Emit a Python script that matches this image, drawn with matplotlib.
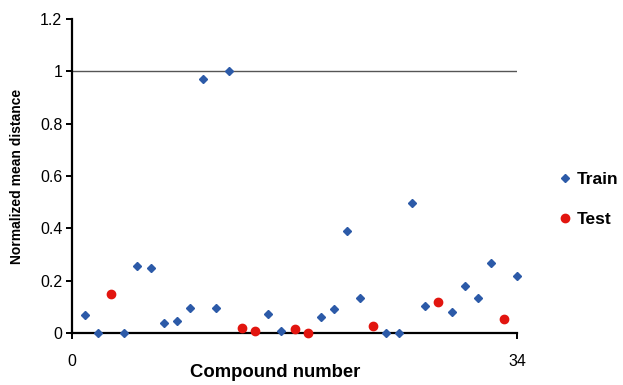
import matplotlib
matplotlib.use("Agg")
import matplotlib.pyplot as plt

plt.rcParams["font.family"] = ["Liberation Sans", "DejaVu Sans"]

# values
train_x = [1, 2, 4, 5, 6, 7, 8, 9, 10, 11, 12, 15, 16, 19, 20, 21, 22,
           24, 25, 26, 27, 29, 30, 31, 32, 34]
train_y = [0.07, 0.0, 0.0, 0.256, 0.25, 0.037, 0.047, 0.097, 0.972, 0.097,
           1.0, 0.071, 0.008, 0.06, 0.093, 0.389, 0.134, 0.0, 0.0, 0.495,
           0.103, 0.08, 0.181, 0.134, 0.266, 0.218]
test_x = [3, 13, 14, 17, 18, 23, 28, 33]
test_y = [0.149, 0.019, 0.007, 0.015, 0.0, 0.028, 0.12, 0.053]

y_ticks = [0, 0.2, 0.4, 0.6, 0.8, 1, 1.2]
y_tick_labels = ["0", "0.2", "0.4", "0.6", "0.8", "1", "1.2"]
x_ticks = [0, 34]
ref_level = 1

blue = "#2c5aa8"
red = "#e2150f"

fig = plt.figure(figsize=(6.23, 3.85), dpi=100)
ax = fig.add_axes([72 / 623, 1 - 333 / 385, 445 / 623, 314 / 385])

ax.axhline(ref_level, color="#555555", lw=1.0, zorder=1)
ax.plot(train_x, train_y, "D", color=blue, ms=4.5, mec=blue,
        label="Train", clip_on=False, zorder=3)
ax.plot(test_x, test_y, "o", color=red, ms=6, mec=red,
        label="Test", clip_on=False, zorder=3)

ax.set_xlim(0, 34)
ax.set_ylim(0, 1.2)
ax.set_xticks(x_ticks)
ax.set_yticks(y_ticks)
ax.set_yticklabels(y_tick_labels)
ax.spines["top"].set_visible(False)
ax.spines["right"].set_visible(False)
for s in ["left", "bottom"]:
    ax.spines[s].set_linewidth(1.6)
ax.tick_params(axis="y", direction="out", length=4, width=1.4,
               labelsize=11.5, pad=3)
ax.tick_params(axis="x", direction="out", length=4, width=1.4,
               labelsize=11.5, pad=11)

# axis titles placed in figure pixels like the reference
fig.text(275 / 623, 4 / 385, "Compound number", fontsize=13.3,
         fontweight="bold", ha="center", va="bottom")
fig.text(17 / 623, 1 - 176 / 385, "Normalized mean distance", fontsize=10,
         fontweight="bold", ha="center", va="center", rotation=90)

fig.legend(loc="upper left", bbox_to_anchor=(548 / 623, 1 - 165 / 385),
           frameon=False, prop={"weight": "bold", "size": 12.5},
           handletextpad=0.05, handlelength=1.2, labelspacing=1.45,
           borderaxespad=0)

fig.savefig("out.png", dpi=100)
